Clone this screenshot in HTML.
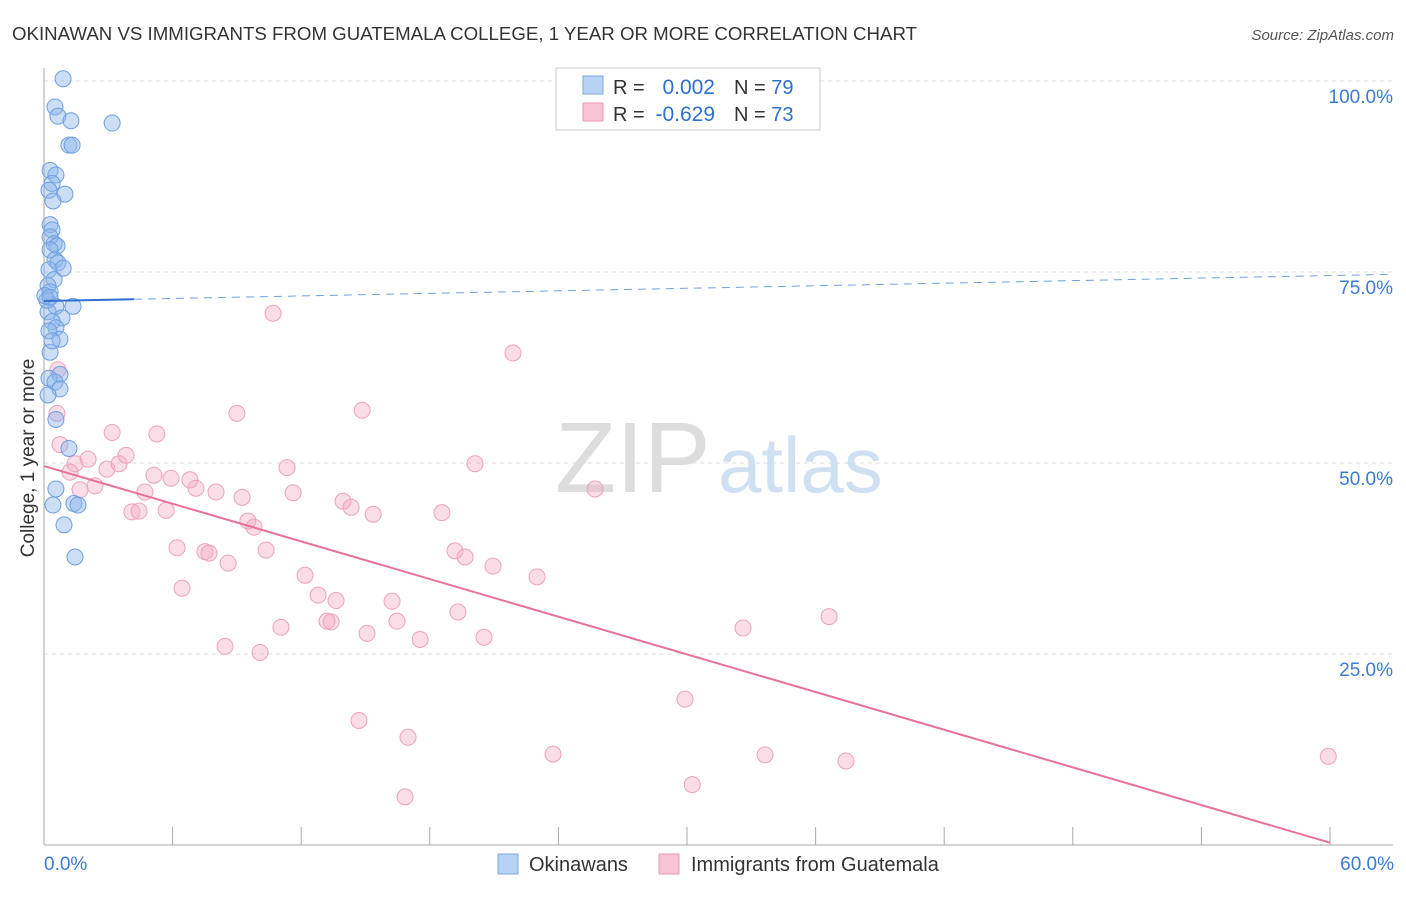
<!DOCTYPE html>
<html><head><meta charset="utf-8"><style>
body{margin:0;background:#fff;font-family:"Liberation Sans",sans-serif}
svg text{font-family:"Liberation Sans",sans-serif}
</style></head><body>
<svg id="chart" width="1406" height="892" xmlns="http://www.w3.org/2000/svg">
<text x="12" y="40" font-size="18" fill="#333" textLength="905" lengthAdjust="spacingAndGlyphs">OKINAWAN VS IMMIGRANTS FROM GUATEMALA COLLEGE, 1 YEAR OR MORE CORRELATION CHART</text>
<text x="1394" y="40" font-size="15" fill="#555" font-style="italic" text-anchor="end">Source: ZipAtlas.com</text>
<text x="555" y="492" font-size="100" fill="#ddd" font-family="Liberation Serif">ZIP</text>
<text x="718" y="492" font-size="78" fill="#cfe0f3">atlas</text>
<g id="grid"></g><g id="marks"></g>
<text x="34" y="458" font-size="19" fill="#333" text-anchor="middle" transform="rotate(-90 34 458)">College, 1 year or more</text>
<g>
<rect x="556" y="68" width="264" height="62" fill="#fff" stroke="#ccc"/>
<rect x="583" y="76" width="20" height="18" fill="#b8d2f3" stroke="#7aa6e0"/>
<rect x="583" y="103" width="20" height="18" fill="#f8c3d4" stroke="#e897b2"/>
<text x="613" y="94" font-size="20" fill="#333">R =</text>
<text x="715" y="94" font-size="21" fill="#2f6fd0" text-anchor="end">0.002</text>
<text x="734" y="94" font-size="20" fill="#333">N = <tspan fill="#2f6fd0">79</tspan></text>
<text x="613" y="121" font-size="20" fill="#333">R =</text>
<text x="715" y="121" font-size="21" fill="#2f6fd0" text-anchor="end">-0.629</text>
<text x="734" y="121" font-size="20" fill="#333">N = <tspan fill="#2f6fd0">73</tspan></text>
</g>
<g>
<rect x="498" y="854" width="20" height="20" fill="#b8d2f3" stroke="#7aa6e0"/>
<text x="529" y="871" font-size="20" fill="#333">Okinawans</text>
<rect x="659" y="854" width="20" height="20" fill="#f8c3d4" stroke="#e897b2"/>
<text x="691" y="871" font-size="20" fill="#333">Immigrants from Guatemala</text>
</g>
<text x="44" y="870" font-size="19" fill="#3a7bd5">0.0%</text>
<text x="1394" y="870" font-size="19" fill="#3a7bd5" text-anchor="end">60.0%</text>
</svg>
<script>
const yTicks=[25,50,75,100];
const yTickLabels=["25.0%","50.0%","75.0%","100.0%"];
const blueX=[0.85,0.49,0.62,1.2,3.03,1.11,1.25,0.27,0.53,0.36,0.22,0.93,0.4,0.27,0.36,0.27,0.45,0.58,0.27,0.49,0.62,0.85,0.22,0.45,0.18,0.27,0.53,1.29,0.18,0.8,0.36,0.53,0.22,0.71,0.27,0.71,0.22,0.49,0.71,0.18,0.53,1.11,0.53,0.4,1.33,1.51,0.89,1.38,0.13,0.36,0.04,0.27];
const blueY=[100.3,96.6,95.4,94.8,94.5,91.6,91.6,88.3,87.7,86.6,85.7,85.2,84.3,81.2,80.5,79.6,78.7,78.4,77.9,76.6,76.2,75.5,75.3,74,73.2,72.4,70.5,70.5,69.8,69,68.5,67.7,67.3,66.2,64.5,61.6,61.1,60.6,59.7,58.9,55.7,51.9,46.6,44.5,44.7,44.5,41.9,37.7,71.3,66,71.9,71.7];
const pinkX=[0.58,0.62,0.71,1.16,1.38,1.96,1.6,2.27,2.8,3.03,3.34,3.65,3.91,4.23,4.49,5.02,4.89,5.43,5.65,5.92,6.14,6.49,6.76,7.16,7.34,7.65,8.19,8.05,8.58,8.81,9.07,9.34,9.61,9.88,10.19,10.54,10.81,11.08,11.61,12.19,12.59,12.77,12.99,13.3,13.66,14.01,14.15,14.37,14.64,15.48,15.7,16.06,16.19,16.73,17.7,18.28,18.41,18.73,19.17,19.57,19.97,20.86,21.93,22.64,24.51,28.51,28.83,31.09,32.07,34.92,35.67,57.12];
const pinkY=[56.5,62.2,52.4,48.8,49.9,50.5,46.5,47,49.2,54,49.9,51,43.6,43.7,46.2,53.8,48.4,43.8,48,38.9,33.6,47.8,46.7,38.4,38.2,46.2,36.9,26,56.5,45.5,42.4,41.6,25.2,38.6,69.6,28.5,49.4,46.1,35.3,32.7,29.3,29.2,32,45,44.2,16.3,56.9,27.7,43.3,31.9,29.3,6.3,14.1,26.9,43.5,38.5,30.5,37.7,49.9,27.2,36.5,64.4,35.1,11.9,46.6,19.1,7.9,28.4,11.8,29.9,11,11.6];
const blueTrendY=[71.2,74.7];
const pinkTrendY=[49.6,0.3];
const X=v=>44+v*(1349/60), Y=v=>845-v*7.64;
const NS="http://www.w3.org/2000/svg";
const grid=document.getElementById('grid'), marks=document.getElementById('marks');
function mk(tag,attrs,parent){const e=document.createElementNS(NS,tag);for(const k in attrs)e.setAttribute(k,attrs[k]);parent.appendChild(e);return e;}
yTicks.forEach((t,i)=>{
 const l=mk('line',{x1:44,x2:1393,y1:Y(t),y2:Y(t),stroke:'#ddd','stroke-dasharray':'4,4'},grid);
 
 
 const tx=mk('text',{x:1393,y:Y(t)+22,'font-size':19,fill:'#3a7bd5','text-anchor':'end'},grid);
 tx.textContent=yTickLabels[i];
 
 
});
const ax=mk('line',{x1:44,x2:1393,y1:845,y2:845,stroke:'#aaa'},grid);


const ay=mk('line',{x1:44,x2:44,y1:68,y2:845,stroke:'#aaa'},grid);


for(let i=0;i<=10;i++){const px=44+i*128.6;
 const t=mk('line',{x1:px,x2:px,y1:827,y2:845,stroke:'#aaa'},grid);
 
 }
pinkX.forEach((v,i)=>{const c=mk('circle',{cx:X(v),cy:Y(pinkY[i]),r:8,fill:'rgba(244,170,195,0.4)',stroke:'#eda2bb','stroke-width':1},marks);
 
 });
blueX.forEach((v,i)=>{const c=mk('circle',{cx:X(v),cy:Y(blueY[i]),r:8,fill:'rgba(140,182,236,0.45)',stroke:'#6f9fe0','stroke-width':1},marks);
 
 });
const bSlope=(blueTrendY[1]-blueTrendY[0])/60;
const b1=mk('line',{x1:X(0),y1:Y(blueTrendY[0]),x2:X(4),y2:Y(blueTrendY[0]+bSlope*4),stroke:'#2f6fd0','stroke-width':2},marks);


const b2=mk('line',{x1:X(4),y1:Y(blueTrendY[0]+bSlope*4),x2:X(60),y2:Y(blueTrendY[1]),stroke:'#6f9fe0','stroke-width':1,'stroke-dasharray':'8,6'},marks);


const p=mk('line',{x1:X(0),y1:Y(pinkTrendY[0]),x2:X(57.2),y2:Y(pinkTrendY[1]),stroke:'#e8709a','stroke-width':2},marks);


</script>
</body></html>
